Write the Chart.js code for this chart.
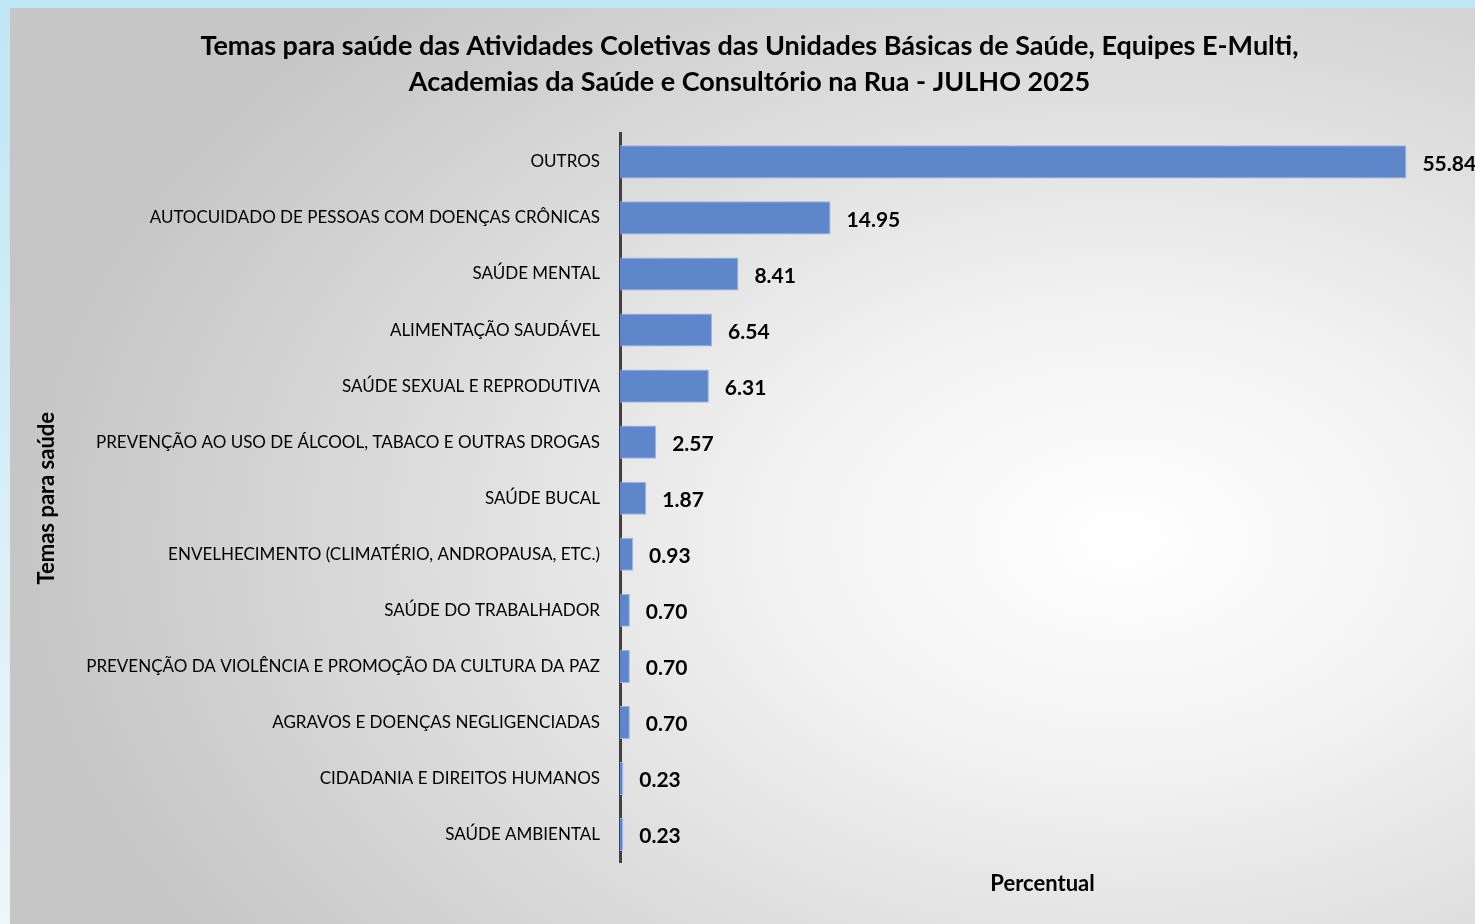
<!DOCTYPE html>
<html>
<head>
<meta charset="utf-8">
<script src="https://cdn.jsdelivr.net/npm/chart.js@4"></script>
<style>
  html, body { margin: 0; padding: 0; }
  body {
    width: 1475px; height: 924px; overflow: hidden;
    background: linear-gradient(180deg, #bfe6f5 0%, #d6eef7 50%, #eef7fa 100%);
    position: relative;
  }
  #wrap {
    position: absolute; left: 10px; top: 8px; width: 1465px; height: 916px;
    background: radial-gradient(ellipse 75% 80% at 76% 58%, #ffffff 0%, #f3f3f3 30%, #dcdcdc 65%, #c6c6c6 100%);
  }
</style>
</head>
<body>
<div id="wrap"><canvas id="temasChart"></canvas></div>
<script>
const temas = [
    'OUTROS',
    'AUTOCUIDADO DE PESSOAS COM DOENÇAS CRÔNICAS',
    'SAÚDE MENTAL',
    'ALIMENTAÇÃO SAUDÁVEL',
    'SAÚDE SEXUAL E REPRODUTIVA',
    'PREVENÇÃO AO USO DE ÁLCOOL, TABACO E OUTRAS DROGAS',
    'SAÚDE BUCAL',
    'ENVELHECIMENTO (CLIMATÉRIO, ANDROPAUSA, ETC.)',
    'SAÚDE DO TRABALHADOR',
    'PREVENÇÃO DA VIOLÊNCIA E PROMOÇÃO DA CULTURA DA PAZ',
    'AGRAVOS E DOENÇAS NEGLIGENCIADAS',
    'CIDADANIA E DIREITOS HUMANOS',
    'SAÚDE AMBIENTAL'
];
const percentual = [55.84, 14.95, 8.41, 6.54, 6.31, 2.57, 1.87, 0.93, 0.70, 0.70, 0.70, 0.23, 0.23];

const tituloGrafico = [
    'Temas para saúde das Atividades Coletivas das Unidades Básicas de Saúde, Equipes E-Multi,',
    'Academias da Saúde e Consultório na Rua - JULHO 2025'
];

const fonte = 'Lato, "Open Sans", sans-serif';

// rótulos de valor ao lado das barras
const rotulosValor = {
    id: 'rotulosValor',
    afterDatasetsDraw(chart) {
        const ctx = chart.ctx;
        const meta = chart.getDatasetMeta(0);
        ctx.save();
        ctx.font = 'bold 21px ' + fonte;
        ctx.fillStyle = '#000';
        ctx.textAlign = 'left';
        ctx.textBaseline = 'middle';
        meta.data.forEach((bar, i) => {
            ctx.fillText(percentual[i].toFixed(2), bar.x + 16, bar.y + 2);
        });
        ctx.restore();
    }
};

const ctx = document.getElementById('temasChart').getContext('2d');

new Chart(ctx, {
    type: 'bar',
    data: {
        labels: temas,
        datasets: [{
            label: 'Percentual',
            data: percentual,
            backgroundColor: '#5d86cb',
            borderColor: '#9db5e0',
            borderWidth: 1,
            borderSkipped: 'start',
            barPercentage: 0.59,
            categoryPercentage: 1.0
        }]
    },
    options: {
        indexAxis: 'y',
        responsive: true,
        maintainAspectRatio: false,
        animation: false,
        layout: {
            padding: { left: 24, right: 10, top: 0, bottom: 27 }
        },
        plugins: {
            legend: { display: false },
            tooltip: { enabled: false },
            title: {
                display: true,
                text: tituloGrafico,
                color: '#000',
                font: { family: fonte, size: 27, weight: 'bold', lineHeight: 1.33 },
                padding: { top: 20, bottom: 34 }
            }
        },
        scales: {
            x: {
                min: 0,
                max: 60,
                grid: { display: false },
                border: { display: false },
                ticks: { display: false },
                title: {
                    display: true,
                    text: 'Percentual',
                    color: '#000',
                    font: { family: fonte, size: 22, weight: 'bold' },
                    padding: { top: 0, bottom: 0 }
                }
            },
            y: {
                grid: { display: false, drawTicks: false },
                border: { display: true, color: '#404040', width: 3 },
                ticks: {
                    color: '#000',
                    font: { family: fonte, size: 17 },
                    padding: 20
                },
                title: {
                    display: true,
                    text: 'Temas para saúde',
                    color: '#000',
                    font: { family: fonte, size: 22, weight: 'bold' },
                    padding: 0
                },
                afterFit(scale) {
                    scale.width = 586;
                }
            }
        }
    },
    plugins: [rotulosValor]
});
</script>
</body>
</html>
